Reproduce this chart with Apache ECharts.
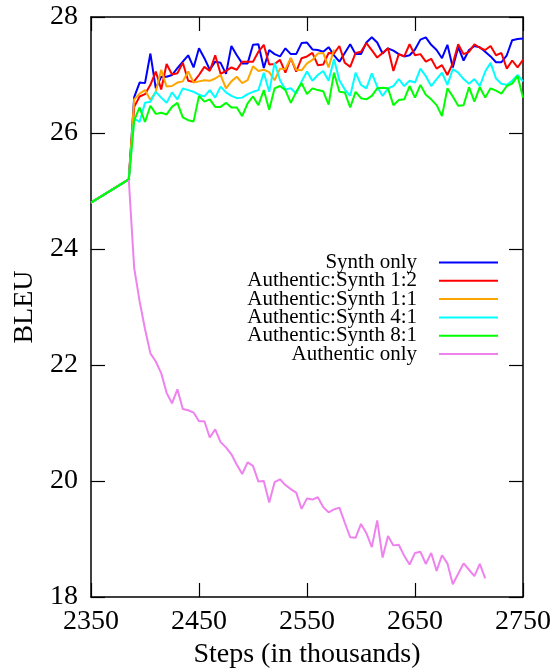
<!DOCTYPE html>
<html>
<head>
<meta charset="utf-8">
<script src="https://cdn.jsdelivr.net/npm/echarts@6/dist/echarts.min.js"></script>
<style>
html,body{margin:0;padding:0;background:#fff;}
#chart{width:553px;height:668px;}
</style>
</head>
<body>
<div id="chart"></div>
<script>
const steps = [2350, 2385,
  2390, 2395, 2400, 2405, 2410, 2415, 2420, 2425, 2430, 2435,
  2440, 2445, 2450, 2455, 2460, 2465, 2470, 2475, 2480, 2485,
  2490, 2495, 2500, 2505, 2510, 2515, 2520, 2525, 2530, 2535,
  2540, 2545, 2550, 2555, 2560, 2565, 2570, 2575, 2580, 2585,
  2590, 2595, 2600, 2605, 2610, 2615, 2620, 2625, 2630, 2635,
  2640, 2645, 2650, 2655, 2660, 2665, 2670, 2675, 2680, 2685,
  2690, 2695, 2700, 2705, 2710, 2715, 2720, 2725, 2730, 2735,
  2740, 2745, 2750];

const seriesNames = ["Synth only", "Authentic:Synth 1:2", "Authentic:Synth 1:1",
  "Authentic:Synth 4:1", "Authentic:Synth 8:1", "Authentic only"];

const synthOnly = [24.8, 25.2,
  26.62, 26.87, 26.86, 27.37, 26.77, 26.97, 26.97, 27.0, 27.12, 27.23,
  27.34, 27.13, 27.46, 27.29, 27.09, 27.23, 27.21, 27.02, 27.5, 27.34,
  27.2, 27.2, 27.52, 27.53, 27.12, 27.43, 27.36, 27.32, 27.46, 27.36,
  27.36, 27.55, 27.56, 27.44, 27.43, 27.40, 27.48, 27.34, 27.23, 27.38,
  27.53, 27.36, 27.36, 27.56, 27.65, 27.56, 27.37, 27.46, 27.42, 27.36,
  27.32, 27.34, 27.44, 27.61, 27.65, 27.52, 27.43, 27.29, 27.52, 27.13,
  27.48, 27.25, 27.43, 27.50, 27.48, 27.40, 27.32, 27.22, 27.22, 27.34,
  27.60, 27.62, 27.63];

const ratio12 = [24.8, 25.2,
  26.45, 26.63, 26.67, 26.83, 27.06, 26.75, 27.19, 27.01, 27.03, 27.21,
  26.90, 26.88, 27.00, 27.14, 27.07, 27.34, 27.02, 27.07, 27.13, 27.09,
  27.23, 27.23, 27.23, 27.40, 27.52, 27.18, 27.19, 27.26, 27.04, 27.29,
  27.06, 27.29, 27.32, 27.38, 27.17, 27.18, 27.38, 27.37, 27.50, 27.21,
  27.14, 27.38, 27.40, 27.55, 27.43, 27.30, 27.38, 27.46, 27.07, 27.36,
  27.32, 27.53, 27.34, 27.36, 27.23, 27.28, 27.11, 27.17, 27.00, 27.20,
  27.53, 27.36, 27.40, 27.53, 27.47, 27.43, 27.50, 27.34, 27.38, 27.11,
  27.25, 27.13, 27.26];

const ratio11 = [24.8, 25.2,
  26.58, 26.68, 26.74, 26.57, 26.71, 27.09, 26.80, 26.81, 26.87, 26.89,
  27.06, 26.87, 26.89, 26.91, 26.90, 26.94, 27.00, 26.77, 26.89, 26.97,
  26.86, 26.91, 27.15, 27.07, 27.09, 27.05, 26.91, 27.11, 27.10, 27.29,
  27.09, 27.08, 27.20, 27.26, 27.37, 27.38, 27.13, 27.44];

const ratio41 = [24.8, 25.2,
  26.25, 26.19, 26.52, 26.54, 26.71, 26.61, 26.52, 26.70, 26.58, 26.77,
  26.74, 26.71, 26.66, 26.63, 26.74, 26.61, 26.80, 26.70, 26.64, 26.60,
  26.61, 26.67, 26.71, 26.74, 27.04, 26.71, 27.21, 26.91, 26.75, 26.77,
  26.68, 26.89, 27.06, 26.90, 27.00, 27.07, 26.90, 27.27, 26.91, 26.75,
  26.64, 27.04, 26.83, 26.77, 27.03, 26.80, 26.64, 26.77, 26.81, 26.93,
  26.81, 26.90, 26.87, 27.11, 26.98, 26.81, 26.93, 27.04, 26.83, 27.10,
  27.04, 26.93, 26.85, 26.93, 26.81, 27.06, 27.21, 26.94, 26.85, 26.83,
  26.90, 27.00, 26.89];

const ratio81 = [24.8, 25.2,
  26.22, 26.44, 26.19, 26.47, 26.33, 26.35, 26.32, 26.45, 26.52, 26.27,
  26.22, 26.20, 26.64, 26.54, 26.58, 26.45, 26.45, 26.52, 26.44, 26.44,
  26.29, 26.51, 26.63, 26.48, 26.74, 26.40, 26.77, 26.81, 26.74, 26.52,
  26.71, 26.86, 26.67, 26.77, 26.74, 26.72, 26.49, 27.04, 26.71, 26.70,
  26.44, 26.71, 26.60, 26.58, 26.64, 26.77, 26.78, 26.77, 26.48, 26.57,
  26.58, 26.81, 26.61, 26.83, 26.66, 26.58, 26.48, 26.29, 26.77, 26.63,
  26.47, 26.48, 26.79, 26.54, 26.79, 26.61, 26.77, 26.73, 26.68, 26.81,
  26.85, 26.98, 26.61];

// Authentic only starts at 2385 (steps index 1)
const authenticOnly = [25.19,
  23.67, 23.10, 22.62, 22.20, 22.06, 21.86, 21.52, 21.34, 21.58, 21.24,
  21.22, 21.18, 21.03, 21.03, 20.75, 20.89, 20.67, 20.58, 20.46, 20.28,
  20.12, 20.32, 20.26, 19.99, 20.00, 19.63, 19.98, 20.03, 19.93, 19.86,
  19.80, 19.52, 19.70, 19.68, 19.72, 19.55, 19.46, 19.51, 19.54, 19.28,
  19.03, 19.02, 19.26, 19.10, 18.86, 19.32, 18.68, 19.05, 18.89, 18.90,
  18.71, 18.56, 18.76, 18.78, 18.57, 18.76, 18.45, 18.72, 18.58, 18.22,
  18.40, 18.58, 18.47, 18.36, 18.57, 18.32];

const xTicks = [2350, 2450, 2550, 2650, 2750];
const yTicks = [18, 20, 22, 24, 26, 28];

const colors = ["#0000ff", "#ff0000", "#ffa500", "#00ffff", "#00ff00", "#ee82ee"];

function pairs(values, offset) {
  return values.map((v, i) => [steps[i + offset], v]);
}

const allValues = [synthOnly, ratio12, ratio11, ratio41, ratio81, authenticOnly];
const offsets = [0, 0, 0, 0, 0, 1];

const FONT = "Liberation Serif";

const chart = echarts.init(document.getElementById('chart'), null, {renderer: 'canvas'});

const axisLine = {show: true, onZero: false, lineStyle: {color: '#000', width: 1.5}};
const axisTick = {show: true, inside: true, length: 14, lineStyle: {color: '#000', width: 1.2}};

chart.setOption({
  animation: false,
  backgroundColor: '#fff',
  grid: {left: 91, right: 30, top: 17, bottom: 71, containLabel: false, outerBoundsMode: 'none'},
  xAxis: [{
    type: 'value', min: xTicks[0], max: xTicks[xTicks.length - 1], interval: 100,
    position: 'bottom',
    name: 'Steps (in thousands)', nameLocation: 'middle', nameGap: 42,
    nameTextStyle: {fontFamily: FONT, fontSize: 28, color: '#000'},
    axisLine: axisLine, axisTick: axisTick,
    axisLabel: {show: true, margin: 11, fontFamily: FONT, fontSize: 28, color: '#000',
      formatter: v => String(v)},
    splitLine: {show: false}
  }, {
    type: 'value', min: xTicks[0], max: xTicks[xTicks.length - 1], interval: 100,
    position: 'top',
    axisLine: axisLine, axisTick: axisTick,
    axisLabel: {show: false}, splitLine: {show: false}
  }],
  yAxis: [{
    type: 'value', min: yTicks[0], max: yTicks[yTicks.length - 1], interval: 2,
    position: 'left',
    name: 'BLEU', nameLocation: 'middle', nameGap: 52, nameRotate: 90,
    nameTextStyle: {fontFamily: FONT, fontSize: 28, color: '#000'},
    axisLine: axisLine, axisTick: axisTick,
    axisLabel: {show: true, margin: 13, fontFamily: FONT, fontSize: 28, color: '#000',
      formatter: v => String(v)},
    splitLine: {show: false}
  }, {
    type: 'value', min: yTicks[0], max: yTicks[yTicks.length - 1], interval: 2,
    position: 'right',
    axisLine: axisLine, axisTick: axisTick,
    axisLabel: {show: false}, splitLine: {show: false}
  }],
  legend: {
    orient: 'vertical',
    right: 55,
    top: 252,
    align: 'right',
    icon: 'rect',
    itemWidth: 59,
    itemHeight: 2,
    itemGap: -2.7,
    padding: 0,
    textStyle: {fontFamily: FONT, fontSize: 21, lineHeight: 18.5, color: '#000', padding: [0, 17, 0, 0]},
    data: seriesNames
  },
  series: allValues.map((vals, k) => ({
    name: seriesNames[k],
    type: 'line',
    xAxisIndex: 0, yAxisIndex: 0,
    data: pairs(vals, offsets[k]),
    symbol: 'none',
    showSymbol: false,
    color: colors[k],
    lineStyle: {color: colors[k], width: 2},
    z: 2 + k
  }))
});
</script>
</body>
</html>
